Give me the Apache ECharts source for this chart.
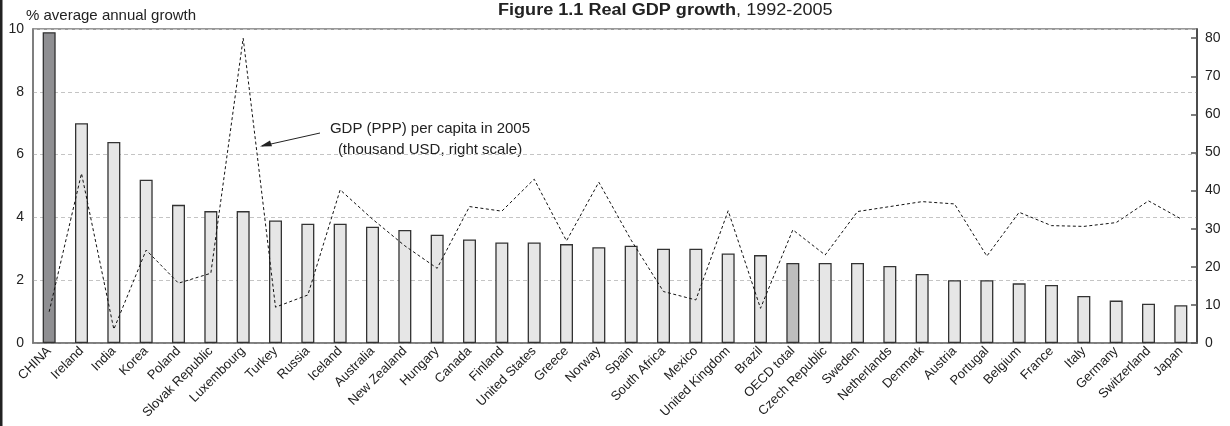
<!DOCTYPE html>
<html>
<head>
<meta charset="utf-8">
<script src="https://cdn.jsdelivr.net/npm/echarts@6/dist/echarts.min.js"></script>
<style>
html,body{margin:0;padding:0;background:#fff;}
#chart{width:1230px;height:426px;}
</style>
</head>
<body>
<div id="chart"></div>
<script>
const categories = ["CHINA","Ireland","India","Korea","Poland","Slovak Republic","Luxembourg","Turkey","Russia","Iceland","Australia","New Zealand","Hungary","Canada","Finland","United States","Greece","Norway","Spain","South Africa","Mexico","United Kingdom","Brazil","OECD total","Czech Republic","Sweden","Netherlands","Denmark","Austria","Portugal","Belgium","France","Italy","Germany","Switzerland","Japan"];
const growth = [9.9,7.0,6.4,5.2,4.4,4.2,4.2,3.9,3.8,3.8,3.7,3.6,3.45,3.3,3.2,3.2,3.15,3.05,3.1,3.0,3.0,2.85,2.8,2.55,2.55,2.55,2.45,2.2,2.0,2.0,1.9,1.85,1.5,1.35,1.25,1.2];
const gdpPerCapita = [8.2,44.5,3.6,24.4,15.7,18.3,80,9.4,12.6,40.2,32.5,25.5,19.6,35.8,34.6,43.0,26.8,42.2,27.0,13.5,11.3,34.7,9.1,29.7,23.1,34.5,35.8,37.1,36.5,22.8,34.3,30.8,30.6,31.6,37.3,32.6];
const leftTicks = [0,2,4,6,8,10];
const rightTicks = [0,10,20,30,40,50,60,70,80];

const FONT = '"Liberation Sans", Arial, sans-serif';
const chart = echarts.init(document.getElementById('chart'), null, {renderer:'canvas'});

const barData = growth.map((v,i)=>{
  let color = '#e6e6e6';
  if (categories[i]==='CHINA') color = '#8f8f92';
  else if (categories[i]==='OECD total') color = '#bdbdbd';
  return {value:v, itemStyle:{color:color}};
});

chart.setOption({
  animation:false,
  textStyle:{fontFamily:FONT},
  grid:{left:33,right:33,top:29,bottom:83,show:true,borderColor:'#777',borderWidth:1.5,backgroundColor:'transparent'},
  xAxis:{
    type:'category',
    data:categories,
    axisLine:{lineStyle:{color:'#777',width:1.5}},
    axisTick:{show:false},
    axisLabel:{rotate:45,interval:0,color:'#222',fontSize:13,fontFamily:FONT,margin:6}
  },
  yAxis:[{
    type:'value',min:0,max:10,interval:2,
    axisLine:{show:true,lineStyle:{color:'#777',width:1.5}},
    axisTick:{show:false},
    axisLabel:{color:'#222',fontSize:14,fontFamily:FONT,margin:9},
    splitLine:{show:true,lineStyle:{color:'#c4c4c4',type:[4,3],width:1}}
  },{
    type:'value',min:0,max:82.4,interval:10,position:'right',
    axisLine:{show:true,lineStyle:{color:'#333',width:1.5}},
    axisTick:{show:true,inside:true,length:6,lineStyle:{color:'#555',width:1.5},customValues:rightTicks},
    axisLabel:{color:'#222',fontSize:14,fontFamily:FONT,margin:8,customValues:rightTicks,
      formatter:function(v){return (Math.abs(v-Math.round(v/10)*10)<1e-6)?String(v):'';}},
    splitLine:{show:false}
  }],
  series:[{
    type:'bar',
    data:barData,
    barWidth:13,
    yAxisIndex:0,
    itemStyle:{borderColor:'#333',borderWidth:1.3},
    z:2
  },{
    type:'line',
    data:gdpPerCapita,
    yAxisIndex:1,
    showSymbol:false,
    symbol:'none',
    lineStyle:{color:'#111',width:1,type:[3,2.5]},
    z:3
  }],
  graphic:[
    {type:'rect',left:0,top:0,shape:{x:0,y:0,width:2.5,height:426},style:{fill:'#222'},silent:true},
    {type:'text',x:26,y:8,style:{text:'% average annual growth',font:'15px '+FONT,fill:'#222'}},
    {type:'text',x:498,y:3,scaleX:1.13,style:{
      rich:{b:{font:'bold 16px '+FONT,fill:'#222'},n:{font:'16px '+FONT,fill:'#222'}},
      text:'{b|Figure 1.1 Real GDP growth}{n|, 1992-2005}'}},
    {type:'text',x:430,y:118,style:{text:'GDP (PPP) per capita in 2005\n(thousand USD, right scale)',font:'15px '+FONT,fill:'#222',align:'center',lineHeight:21}},
    {type:'line',shape:{x1:320,y1:133,x2:262,y2:146},style:{stroke:'#222',lineWidth:1}},
    {type:'polygon',shape:{points:[[260,146.5],[270,140.6],[272,146.2]]},style:{fill:'#222'}}
  ]
});
</script>
</body>
</html>
